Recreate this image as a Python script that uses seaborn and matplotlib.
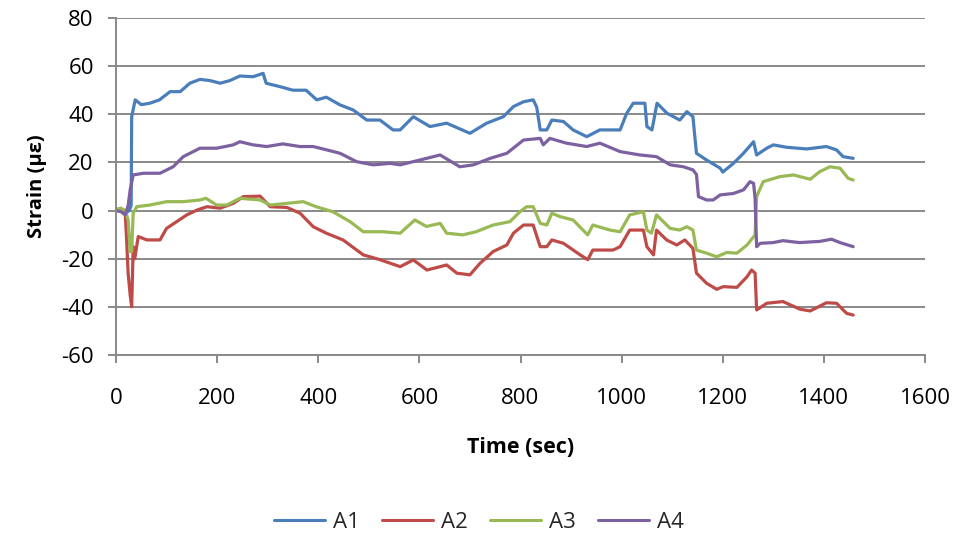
import numpy as np
import pandas as pd
import matplotlib
matplotlib.use("Agg")
import matplotlib.pyplot as plt
import seaborn as sns
from matplotlib.lines import Line2D

series_names = ["A1", "A2", "A3", "A4"]
colors = ["#4A7EBB", "#BE4B48", "#98B954", "#7D60A0"]

A1_t = [0, 10, 20, 26, 30, 31, 38, 50, 67, 86, 107, 127, 146, 166, 186, 206, 225, 245, 271, 291, 297, 324,
        350, 376, 397, 416, 443, 469, 496, 522, 548, 562, 588, 621, 654, 700, 733, 766, 786, 806, 825, 832,
        839, 852, 862, 885, 904, 931, 957, 997, 1010, 1023, 1046, 1050, 1060, 1070, 1090, 1115, 1129, 1141,
        1148, 1168, 1195, 1200, 1221, 1241, 1261, 1267, 1287, 1300, 1326, 1366, 1405, 1425, 1438, 1458]
A1_v = [0, 0, -1, 0, 2, 39, 46, 44, 44.6, 46, 49.4, 49.4, 52.9, 54.5, 54, 52.9, 54, 55.9, 55.6, 57, 52.9, 51.5,
        50, 50, 46, 47.1, 43.9, 41.8, 37.6, 37.6, 33.5, 33.5, 39, 34.9, 36.3, 32.1, 36.3, 39, 43.2, 45.2, 46, 43,
        33.5, 33.5, 37.6, 37, 33.5, 30.7, 33.5, 33.5, 40.4, 44.6, 44.6, 34.9, 33.5, 44.6, 40.4, 37.6, 41.1, 39,
        23.8, 21, 17.6, 16, 19.6, 23.8, 28.6, 23.1, 25.9, 27.3, 26.3, 25.6, 26.6, 25.2, 22.4, 21.7]

A2_t = [0, 10, 18, 21, 24, 28, 31, 34, 37, 44, 61, 87, 100, 120, 140, 160, 180, 206, 232, 252, 285, 305, 338,
        364, 390, 416, 449, 489, 522, 562, 588, 615, 654, 674, 700, 720, 746, 773, 786, 806, 825, 839, 852, 862,
        885, 918, 933, 943, 983, 997, 1016, 1043, 1050, 1063, 1069, 1089, 1109, 1125, 1141, 1148, 1168, 1188,
        1201, 1228, 1248, 1257, 1264, 1267, 1287, 1319, 1353, 1373, 1405, 1425, 1445, 1458]
A2_v = [0.5, 0.5, 0, -12.2, -26, -35, -40, -15, -20, -10.8, -12.2, -12.2, -7.4, -4.6, -1.8, 0.2, 1.6, 1, 3, 5.8,
        6, 1.6, 1.3, -1.1, -6.7, -9.4, -12.2, -18.4, -20.4, -23.3, -20.5, -24.7, -22.6, -26, -26.7, -21.9, -17,
        -14.3, -9.4, -6, -6, -15, -15, -12.2, -13.6, -18.4, -20.4, -16.4, -16.4, -15, -8.1, -8.1, -15, -18.4,
        -8.1, -12.2, -14.3, -12.2, -15.7, -26, -30.2, -32.7, -31.6, -31.9, -27.5, -24.7, -26, -41.3, -38.5,
        -37.8, -41, -41.7, -38.3, -38.5, -42.7, -43.4]

A3_t = [0, 10, 18, 24, 28, 31, 34, 41, 67, 100, 133, 166, 178, 199, 219, 245, 285, 305, 338, 370, 396, 429,
        463, 489, 528, 562, 591, 614, 641, 654, 686, 712, 746, 779, 799, 812, 825, 839, 852, 862, 878, 904, 933,
        943, 977, 997, 1016, 1043, 1050, 1059, 1069, 1096, 1115, 1129, 1141, 1148, 1168, 1188, 1208, 1228,
        1248, 1264, 1267, 1280, 1313, 1340, 1373, 1392, 1412, 1432, 1448, 1458]
A3_v = [0.5, 1, 0, -3.9, -17, -17, -1.1, 1.6, 2.3, 3.7, 3.7, 4.4, 5.1, 2.3, 2.3, 5.1, 4.4, 2.3, 3, 3.7, 1.6,
        -0.5, -4.6, -8.8, -8.8, -9.4, -3.9, -6.6, -5.3, -9.4, -10.1, -8.8, -6, -4.6, -0.5, 1.6, 1.6, -5.3, -6,
        -1.1, -2.5, -3.9, -10.1, -6, -8.1, -8.8, -1.8, -0.5, -8.1, -9.4, -1.8, -7.4, -8.1, -6.7, -8.1, -16.4,
        -17.7, -19.2, -17.4, -17.7, -14.3, -10.1, 5.8, 12, 14.1, 14.8, 13, 16.2, 18.2, 17.6, 13.4, 12.7]

A4_t = [0, 10, 18, 24, 28, 34, 54, 87, 113, 133, 166, 199, 232, 245, 271, 298, 330, 364, 390, 417, 443, 476,
        509, 542, 562, 601, 641, 680, 707, 740, 773, 806, 839, 845, 858, 891, 931, 957, 997, 1036, 1069, 1096,
        1122, 1141, 1148, 1152, 1168, 1181, 1195, 1221, 1241, 1254, 1261, 1264, 1267, 1274, 1300, 1319, 1352,
        1392, 1415, 1432, 1458]
A4_v = [0, -0.5, -1.8, 2, 8.6, 14.8, 15.5, 15.5, 18.2, 22.4, 25.9, 25.9, 27.3, 28.6, 27.3, 26.6, 27.7, 26.6,
        26.6, 25.2, 23.8, 20.3, 19, 19.6, 19, 21, 23.1, 18.2, 19, 21.7, 23.8, 29.3, 30, 27.3, 30, 28, 26.6, 28,
        24.5, 23.1, 22.4, 19, 18.2, 16.9, 15, 5.8, 4.4, 4.4, 6.5, 7.1, 8.6, 12, 11.3, 5, -15, -13.6, -13.3,
        -12.5, -13.3, -12.8, -11.9, -13.3, -15]

x_ticks = [0, 200, 400, 600, 800, 1000, 1200, 1400, 1600]
y_ticks = [-60, -40, -20, 0, 20, 40, 60, 80]

frames = []
for name, t, v in zip(series_names, [A1_t, A2_t, A3_t, A4_t], [A1_v, A2_v, A3_v, A4_v]):
    assert len(t) == len(v), name
    frames.append(pd.DataFrame({"Time": t, "Strain": v, "Sensor": name}))
df = pd.concat(frames, ignore_index=True)

sns.set_theme(style="white")
plt.rcParams["font.family"] = ["Open Sans", "DejaVu Sans"]

fig = plt.figure(figsize=(9.58, 5.42), dpi=100)
ax = fig.add_axes([116 / 958, 1 - 355 / 542, (925 - 116) / 958, (355 - 18) / 542])

sns.lineplot(data=df, x="Time", y="Strain", hue="Sensor", hue_order=series_names,
             palette=colors, estimator=None, sort=False, linewidth=2.3, ax=ax, legend=False)

ax.set_xlim(0, 1600)
ax.set_ylim(-60, 80)
ax.set_xticks(x_ticks)
ax.set_yticks(y_ticks)
ax.set_xticklabels([str(x) for x in x_ticks])
ax.set_yticklabels([str(y) for y in y_ticks])
ax.yaxis.grid(True, color="#898989", linewidth=1.4)
ax.xaxis.grid(False)
ax.set_axisbelow(True)
for s in ["top", "right"]:
    ax.spines[s].set_visible(False)
for s in ["left", "bottom"]:
    ax.spines[s].set_color("#898989")
    ax.spines[s].set_linewidth(1.4)
ax.tick_params(axis="y", direction="out", length=6, width=1.4, color="#898989",
               labelsize=16, pad=10, left=True, labelcolor="black")
ax.tick_params(axis="x", direction="out", length=6, width=1.4, color="#898989",
               labelsize=16, pad=18, bottom=True, labelcolor="black")

ax.set_xlabel("Time (sec)", fontsize=15.5, fontweight="bold", labelpad=20, color="black")
ax.set_ylabel("Strain (με)", fontsize=14.5, fontweight="bold", labelpad=10, color="black")

handles = [Line2D([0], [0], color=c, linewidth=2.2) for c in colors]
fig.legend(handles, series_names, loc="center", bbox_to_anchor=(0.5, 1 - 522 / 542), ncol=4,
           frameon=False, fontsize=16, handlelength=2.3, columnspacing=1.0, handletextpad=0.35)

fig.savefig("out.png", dpi=100)
